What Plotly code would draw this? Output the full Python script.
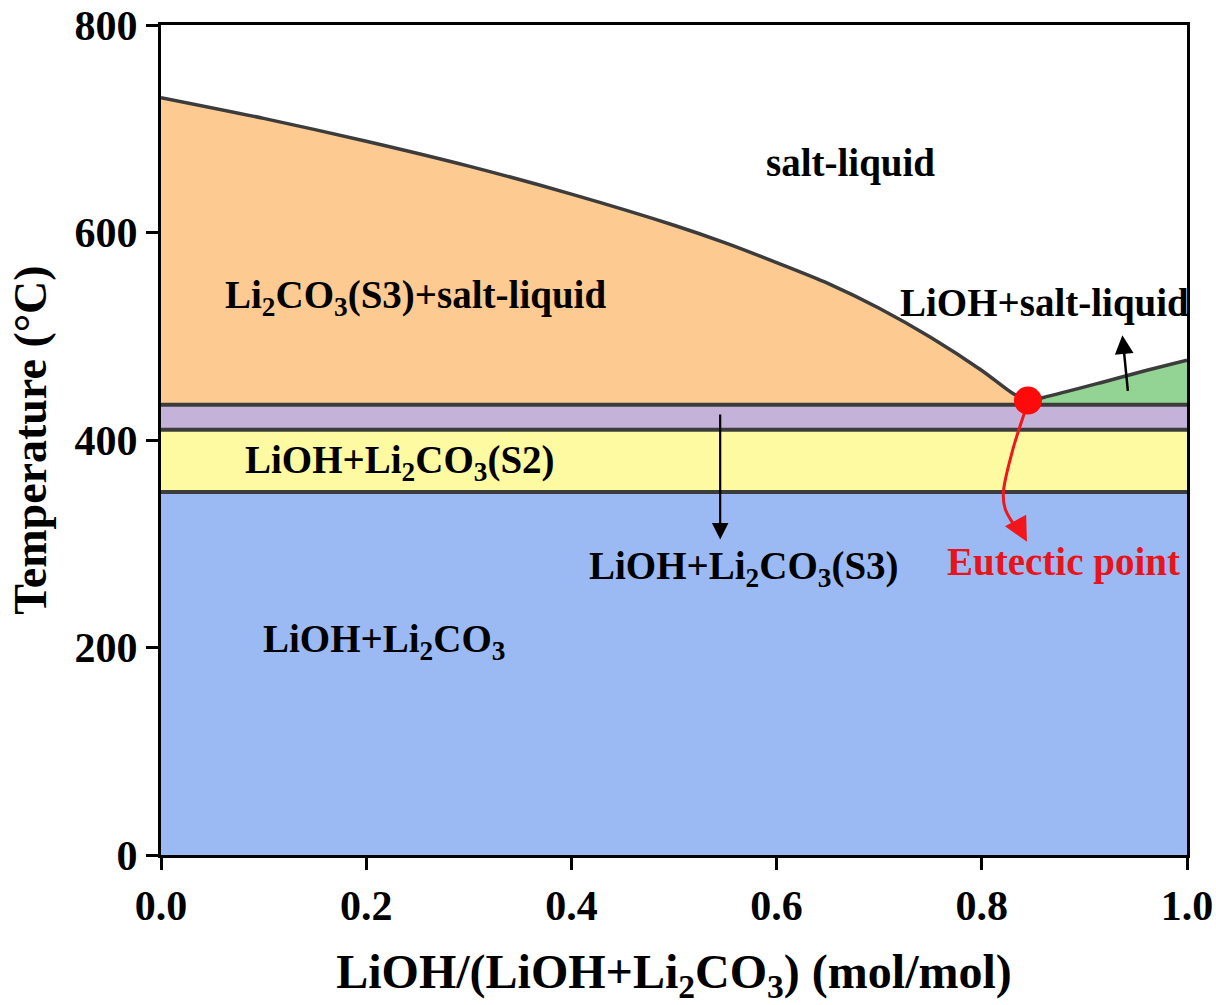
import plotly.graph_objects as go

# Liquidus of Li2CO3 (left branch) and of LiOH (right branch)
left_liq_x = [0.0, 0.1, 0.2, 0.3, 0.4, 0.5, 0.55, 0.6, 0.65, 0.7, 0.75, 0.8, 0.83, 0.845]
left_liq_T = [730, 710, 688, 664, 637, 607, 590, 571, 551, 527, 499, 467, 445, 438]
right_liq_x = [0.845, 0.860, 0.915, 0.960, 1.0]
right_liq_T = [438, 441, 455, 467, 477]

# Eutectic point
eutectic_x = [0.845]
eutectic_T = [438]

# Horizontal phase boundaries (°C)
T_eutectic_line = 434
T_s2_s3 = 410
T_solid = 350

# Curved pointer toward the "Eutectic point" label
pointer_x = [0.845, 0.830, 0.821, 0.823, 0.838]
pointer_T = [436, 390, 349, 333, 309]

x_ticks = [0.0, 0.2, 0.4, 0.6, 0.8, 1.0]
x_ticklabels = ["0.0", "0.2", "0.4", "0.6", "0.8", "1.0"]
y_ticks = [0, 200, 400, 600, 800]

C_ORANGE = "#FDCB92"
C_GREEN = "#93D494"
C_PURPLE = "#C5B2D9"
C_YELLOW = "#FEFAA2"
C_BLUE = "#9BBAF3"
C_EDGE = "#3C3C3C"
FONT = "Liberation Serif"

fig = go.Figure()

def band(t_lo, t_hi, color):
    fig.add_trace(go.Scatter(
        x=[0, 1, 1, 0, 0], y=[t_lo, t_lo, t_hi, t_hi, t_lo],
        fill="toself", fillcolor=color, mode="none", hoverinfo="skip"))

# Solid-state bands
band(0, T_solid, C_BLUE)
band(T_solid, T_s2_s3, C_YELLOW)
band(T_s2_s3, T_eutectic_line, C_PURPLE)

# Li2CO3(S3) + liquid region
fig.add_trace(go.Scatter(
    x=left_liq_x + [left_liq_x[-1], 0, 0],
    y=left_liq_T + [T_eutectic_line, T_eutectic_line, left_liq_T[0]],
    fill="toself", fillcolor=C_ORANGE, mode="none", hoverinfo="skip"))

# LiOH + liquid region
fig.add_trace(go.Scatter(
    x=right_liq_x + [1, right_liq_x[0], right_liq_x[0]],
    y=right_liq_T + [T_eutectic_line, T_eutectic_line, right_liq_T[0]],
    fill="toself", fillcolor=C_GREEN, mode="none", hoverinfo="skip"))

# Boundary lines
for t in (T_eutectic_line, T_s2_s3, T_solid):
    fig.add_trace(go.Scatter(x=[0, 1], y=[t, t], mode="lines",
                             line=dict(color=C_EDGE, width=4), hoverinfo="skip"))
fig.add_trace(go.Scatter(x=left_liq_x, y=left_liq_T, mode="lines",
                         line=dict(color=C_EDGE, width=3.5, shape="spline", smoothing=0.8),
                         hoverinfo="skip"))
fig.add_trace(go.Scatter(x=right_liq_x, y=right_liq_T, mode="lines",
                         line=dict(color=C_EDGE, width=3.5, shape="spline", smoothing=0.8),
                         hoverinfo="skip"))

# Red curved pointer and eutectic marker
fig.add_trace(go.Scatter(x=pointer_x, y=pointer_T, mode="lines",
                         line=dict(color="#F0161B", width=3, shape="spline"),
                         hoverinfo="skip"))
fig.add_trace(go.Scatter(x=eutectic_x, y=eutectic_T, mode="markers",
                         marker=dict(color="#FF0A0A", size=28), hoverinfo="skip"))

# Arrowheads
fig.add_annotation(x=0.844, y=302, ax=pointer_x[-1], ay=pointer_T[-1] + 4,
                   xref="x", yref="y", axref="x", ayref="y", text="",
                   showarrow=True, arrowhead=2, arrowsize=1.6, arrowwidth=3,
                   arrowcolor="#F0161B")
fig.add_annotation(x=0.545, y=304, ax=0.545, ay=426,
                   xref="x", yref="y", axref="x", ayref="y", text="",
                   showarrow=True, arrowhead=2, arrowsize=1.5, arrowwidth=2.2,
                   arrowcolor="black")
fig.add_annotation(x=0.937, y=501, ax=0.9425, ay=446,
                   xref="x", yref="y", axref="x", ayref="y", text="",
                   showarrow=True, arrowhead=2, arrowsize=1.5, arrowwidth=2.5,
                   arrowcolor="black")

# Region labels
labels = [
    ("salt-liquid", 0.6725, 667, "black"),
    ("Li<sub>2</sub>CO<sub>3</sub>(S3)+salt-liquid", 0.2476, 537, "black"),
    ("LiOH+salt-liquid", 0.861, 532, "black"),
    ("LiOH+Li<sub>2</sub>CO<sub>3</sub>(S2)", 0.233, 378, "black"),
    ("LiOH+Li<sub>2</sub>CO<sub>3</sub>(S3)", 0.568, 276, "black"),
    ("Eutectic point", 0.880, 282, "#E8141C"),
    ("LiOH+Li<sub>2</sub>CO<sub>3</sub>", 0.217, 206, "black"),
]
for txt, lx, ly, col in labels:
    fig.add_annotation(x=lx, y=ly, xref="x", yref="y", text=txt, showarrow=False,
                       font=dict(family=FONT, size=39, color=col, weight="bold"))

axis_common = dict(
    showline=True, linecolor="black", linewidth=3, mirror=True,
    ticks="outside", ticklen=12, tickwidth=3, tickcolor="black",
    showgrid=False, zeroline=False, automargin=False,
    tickfont=dict(family=FONT, size=42, color="black", weight="bold"),
)

fig.update_xaxes(range=[0, 1], tickvals=x_ticks, ticktext=x_ticklabels,
                 title=dict(text="LiOH/(LiOH+Li<sub>2</sub>CO<sub>3</sub>) (mol/mol)",
                            font=dict(family=FONT, size=48, color="black", weight="bold"),
                            standoff=30),
                 **axis_common)
fig.update_yaxes(range=[0, 800], tickvals=y_ticks,
                 title=dict(text="Temperature (°C)",
                            font=dict(family=FONT, size=46, color="black", weight="bold"),
                            standoff=14),
                 **axis_common)

fig.update_layout(width=1216, height=1005,
                  margin=dict(l=161, r=29, t=25, b=150),
                  plot_bgcolor="white", paper_bgcolor="white",
                  showlegend=False)

fig.write_html("out.html")
